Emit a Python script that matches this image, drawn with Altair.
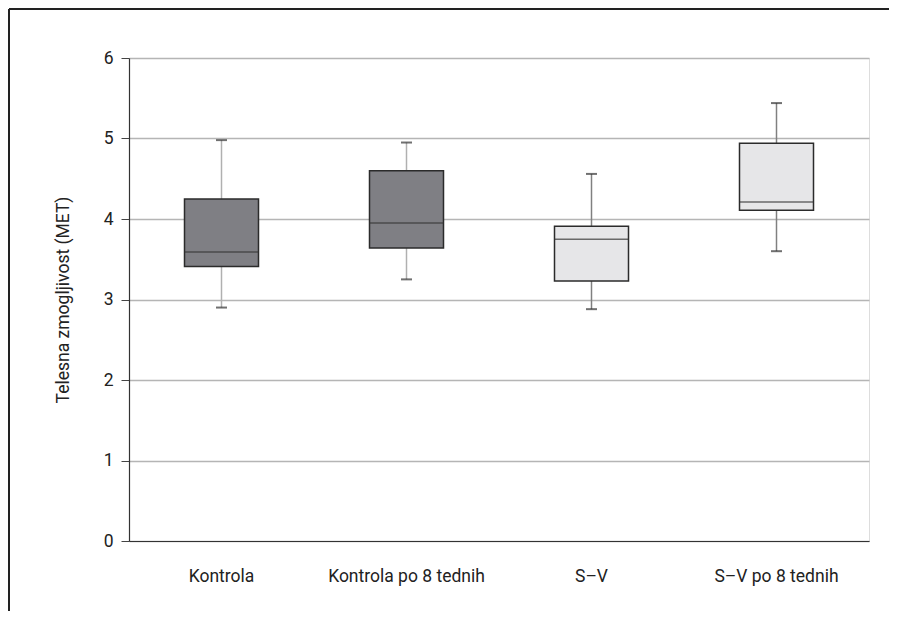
import altair as alt
import pandas as pd

# Data
groups = ["Kontrola", "Kontrola po 8 tednih", "S–V", "S–V po 8 tednih"]
kind = ["Kontrola", "Kontrola", "S–V", "S–V"]
whisker_low = [2.90, 3.25, 2.88, 3.60]
q1 = [3.41, 3.64, 3.23, 4.11]
median = [3.59, 3.95, 3.75, 4.21]
q3 = [4.25, 4.60, 3.91, 4.94]
whisker_high = [4.98, 4.95, 4.56, 5.44]
y_ticks = [0, 1, 2, 3, 4, 5, 6]

df = pd.DataFrame({
    "group": groups, "kind": kind, "lo": whisker_low, "q1": q1,
    "med": median, "q3": q3, "hi": whisker_high,
})

FONT = "Roboto, sans-serif"
FS = 17.5
W, H = 740, 483

x = alt.X("group:N", sort=groups,
          scale=alt.Scale(paddingInner=0, paddingOuter=0),
          axis=alt.Axis(title=None, labelAngle=0, ticks=False, domain=True,
                        domainColor="#333333", domainWidth=1.2,
                        labelPadding=26, labelFontSize=FS, labelColor="#222222",
                        labelFont=FONT, grid=False))
yscale = alt.Scale(domain=[0, 6], nice=False)

base = alt.Chart(df)

whisk = base.mark_rule(strokeWidth=1.5).encode(
    x=x,
    y=alt.Y("lo:Q", scale=yscale,
            axis=alt.Axis(title="Telesna zmogljivost (MET)", values=y_ticks, format="d",
                          grid=True, gridColor="#b5b5b5", gridWidth=1.5,
                          domainColor="#333333", domainWidth=1.2,
                          tickColor="#444444", tickSize=8, tickWidth=1,
                          labelPadding=8, labelFontSize=FS, labelColor="#222222",
                          labelFont=FONT, titleFont=FONT, titleFontSize=FS,
                          titleFontWeight="normal", titleColor="#222222",
                          titlePadding=31)),
    y2="hi:Q",
    color=alt.Color("kind:N", scale=alt.Scale(domain=["Kontrola", "S–V"],
                                              range=["#b0b0b0", "#808080"]),
                    legend=None),
)

caps_lo = base.mark_tick(orient="horizontal", size=11, thickness=2, color="#333333").encode(
    x=x, y=alt.Y("lo:Q", scale=yscale))
caps_hi = base.mark_tick(orient="horizontal", size=11, thickness=2, color="#333333").encode(
    x=x, y=alt.Y("hi:Q", scale=yscale))

box = base.mark_bar(size=74, stroke="#2b2b2b", strokeWidth=1.5).encode(
    x=x,
    y=alt.Y("q1:Q", scale=yscale),
    y2="q3:Q",
    fill=alt.Fill("kind:N", scale=alt.Scale(domain=["Kontrola", "S–V"],
                                            range=["#7f7f84", "#e6e6e8"]),
                  legend=None),
)

med = base.mark_tick(orient="horizontal", size=74, thickness=1.5, color="#333333").encode(
    x=x, y=alt.Y("med:Q", scale=yscale))

frame_data = alt.Data(values=[{"a": 1}])
frame_left = alt.Chart(frame_data).mark_rule(color="#222222", strokeWidth=2).encode(
    x=alt.value(-120), y=alt.value(-49), y2=alt.value(H + 70))
frame_top = alt.Chart(frame_data).mark_rule(color="#222222", strokeWidth=2).encode(
    x=alt.value(-120), x2=alt.value(W + 20), y=alt.value(-49))

chart = alt.layer(whisk, caps_lo, caps_hi, box, med, frame_left, frame_top).properties(
    width=W, height=H, padding=0
).configure_view(stroke=None).configure(background="white")

chart.save("out.html", embed_options={"renderer": "svg", "actions": False})
